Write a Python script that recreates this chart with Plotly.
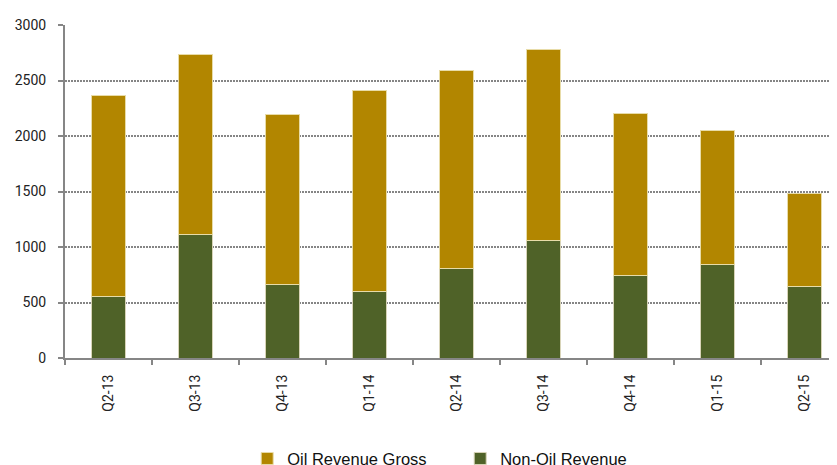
import plotly.graph_objects as go

categories = ["Q2-13", "Q3-13", "Q4-13", "Q1-14", "Q2-14", "Q3-14", "Q4-14", "Q1-15", "Q2-15"]
non_oil = [556, 1115, 662, 601, 806, 1055, 743, 842, 644]
oil_gross = [1813, 1623, 1533, 1810, 1785, 1726, 1457, 1208, 838]
y_ticks = [0, 500, 1000, 1500, 2000, 2500, 3000]

GOLD = "#B28600"
GREEN = "#4F6228"
AXIS = "#868686"
TICKFONT = dict(family="Roboto, Liberation Sans, Arial", size=14, color="#222222")

fig = go.Figure()
fig.add_trace(go.Bar(x=categories, y=non_oil, name="Non-Oil Revenue",
                     marker=dict(color=GREEN, line=dict(color="#D8D4B8", width=1)),
                     width=0.395))
fig.add_trace(go.Bar(x=categories, y=oil_gross, name="Oil Revenue Gross",
                     marker=dict(color=GOLD, line=dict(color="#E8DCA8", width=1)),
                     width=0.395))

# the page body has an 8px default margin, so margins are offset accordingly
fig.update_layout(
    width=837, height=465,
    barmode="stack",
    margin=dict(l=57, r=8, t=17, b=115, autoexpand=False),
    plot_bgcolor="white", paper_bgcolor="white",
    font=dict(family="Roboto, Liberation Sans, Arial", size=14, color="#222222"),
    showlegend=True,
    legend=dict(orientation="h", traceorder="reversed", x=0.236, xanchor="left",
                y=-0.25, yanchor="top",
                font=dict(family="Liberation Sans Narrow, Arial Narrow, Liberation Sans", size=16.5, color="#111111"),
                entrywidth=168, bgcolor="rgba(0,0,0,0)"),
)
fig.update_xaxes(
    type="category", range=[-0.5, 8.374], automargin=False,
    showline=True, linecolor=AXIS, linewidth=2,
    ticks="outside", tickson="boundaries", ticklen=5, tickcolor=AXIS, tickwidth=2,
    tickangle=-90, ticklabelstandoff=9, showgrid=False,
    tickfont=TICKFONT,
)
fig.update_yaxes(
    range=[0, 3000], tickvals=y_ticks, automargin=False,
    showline=True, linecolor=AXIS, linewidth=2,
    ticks="outside", ticklen=5, tickcolor=AXIS, tickwidth=2,
    ticklabelstandoff=9,
    showgrid=True, gridcolor="#858585", gridwidth=1.5, griddash="1.5px,1.5px",
    zeroline=False,
    tickfont=TICKFONT,
)

fig.write_html("out.html")
